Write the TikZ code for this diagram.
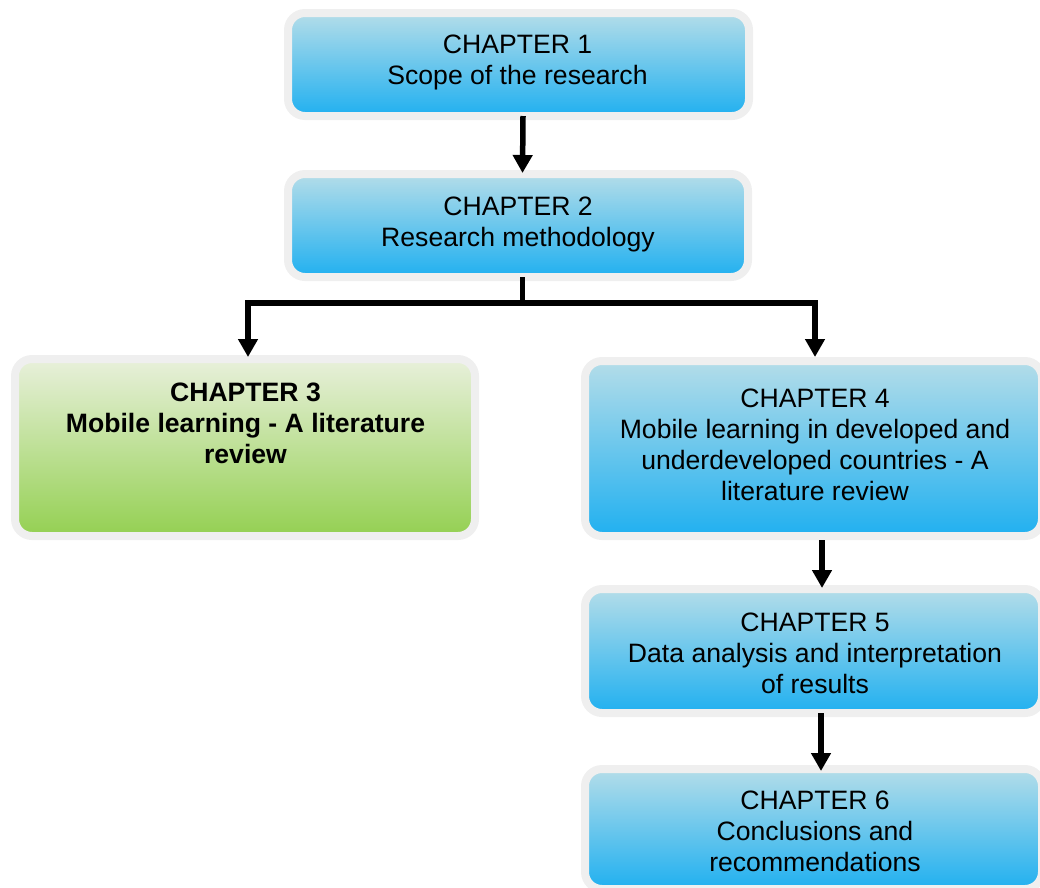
\documentclass[tikz,border=0pt]{standalone}
\usepackage{fontspec}
\setmainfont{Liberation Sans}
\usetikzlibrary{arrows.meta}

\definecolor{halo}{RGB}{239,239,239}
\definecolor{bluetop}{RGB}{180,221,233}
\definecolor{bluemid}{RGB}{150,206,236}
\definecolor{bluebot}{RGB}{32,176,240}
\definecolor{greentop}{RGB}{232,240,219}
\definecolor{greenmid}{RGB}{200,228,170}
\definecolor{greenbot}{RGB}{148,208,82}

\begin{document}
\begin{tikzpicture}[x=1pt,y=-1pt,
  chapbox/.style={draw=halo,line width=8pt,rounded corners=17pt,inner sep=0pt},
  bluebox/.style={chapbox,top color=bluetop,middle color=bluemid,bottom color=bluebot},
  greenbox/.style={chapbox,top color=greentop,middle color=greenmid,bottom color=greenbot},
  txt/.style={anchor=north,inner sep=0pt,align=center,font=\fontsize{26.6}{31}\selectfont},
  link/.style={line width=5.5pt,line join=miter},
  arr/.style={link,-{Triangle[width=19pt,length=18pt]}}]
\useasboundingbox (0,0) rectangle (1040,887);

% chapter boxes
\node[bluebox,minimum width=461pt,minimum height=103pt] (b1) at (518.5,64.5) {};
\node[bluebox,minimum width=460pt,minimum height=103pt] (b2) at (518,225.5) {};
\node[greenbox,minimum width=460pt,minimum height=177pt] (b3) at (245,447.5) {};
\node[bluebox,minimum width=457pt,minimum height=175pt] (b4) at (813.5,448.5) {};
\node[bluebox,minimum width=457pt,minimum height=124pt] (b5) at (813.5,651) {};
\node[bluebox,minimum width=457pt,minimum height=120pt] (b6) at (813.5,829) {};

% chapter titles
\node[txt] (t1) at (517.5,35) {CHAPTER 1\\Scope of the research};
\node[txt] (t2) at (518,197) {CHAPTER 2\\Research methodology};
\node[txt,font=\fontsize{26.6}{31}\selectfont\bfseries] (t3) at (245.5,383) {CHAPTER 3\\Mobile learning - A literature\\review};
\node[txt] (t4) at (815,389) {CHAPTER 4\\Mobile learning in developed and\\underdeveloped countries - A\\literature review};
\node[txt] (t5) at (815,613) {CHAPTER 5\\Data analysis and interpretation\\of results};
\begin{scope}
  \clip (0,0) rectangle (1040,871);
  \node[txt] (t6) at (815,791) {CHAPTER 6\\Conclusions and\\recommendations};
\end{scope}

% connectors
\draw[arr] ([xshift=4.5pt,yshift=4pt]b1.south) -- ([xshift=4.5pt,yshift=-3pt]b2.north);
\draw[link] ([xshift=4.5pt,yshift=4pt]b2.south) -- ++(0,26) coordinate (j);
\draw[arr] (j) -| ([xshift=3pt,yshift=-2pt]b3.north);
\draw[arr] (j) -| ([xshift=1.5pt]b4.north);
\draw[arr] ([xshift=8.5pt]b4.south) -- ([xshift=8.5pt,yshift=-3pt]b5.north);
\draw[arr] ([xshift=7.5pt,yshift=4pt]b5.south) -- ([xshift=7.5pt,yshift=-6pt]b6.north);
\end{tikzpicture}
\end{document}
